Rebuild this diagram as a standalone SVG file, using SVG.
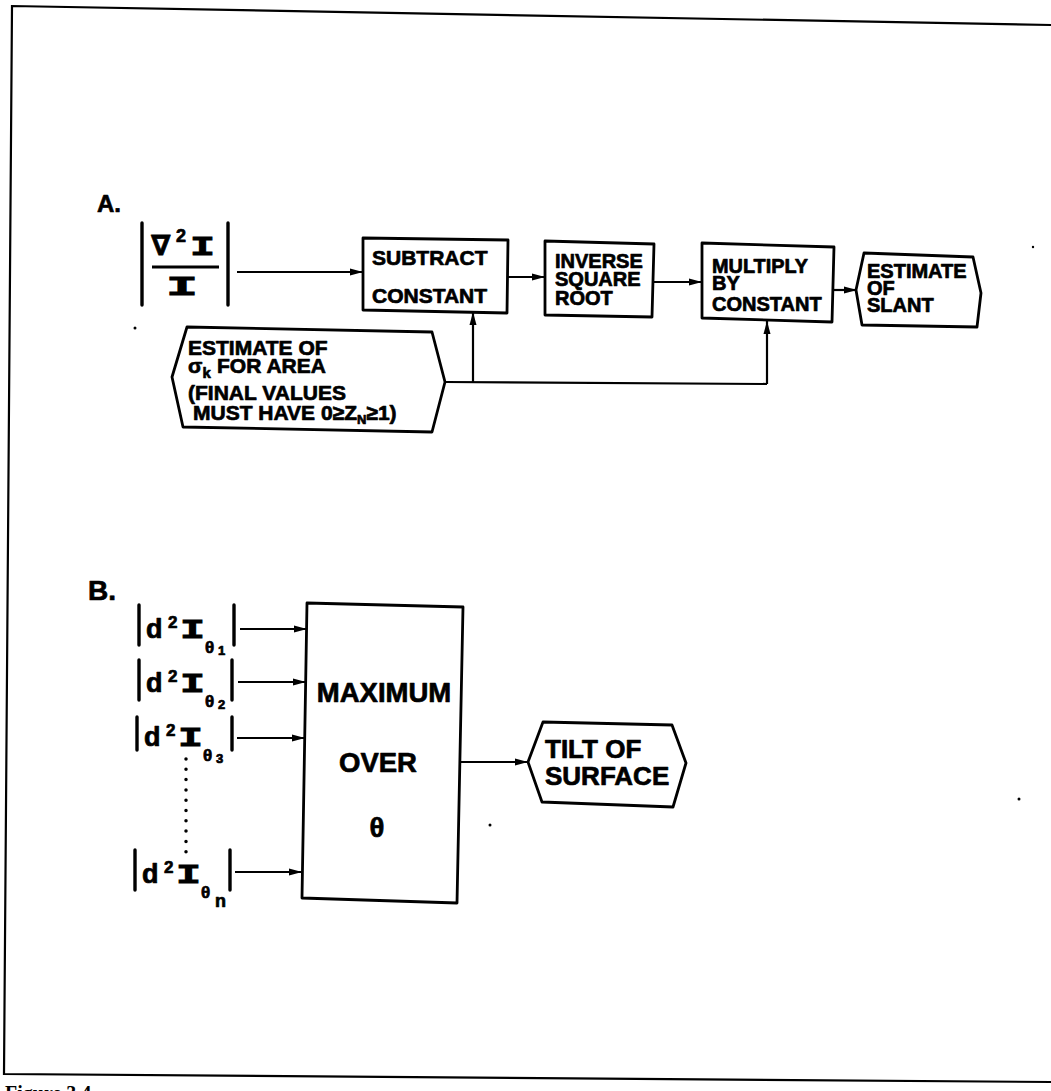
<svg xmlns="http://www.w3.org/2000/svg" width="1051" height="1091" viewBox="0 0 1051 1091">
<style>
.t{font-family:"Liberation Sans","DejaVu Sans",Arial,sans-serif;font-weight:bold;fill:#000;stroke:#000;stroke-width:0.7;stroke-linejoin:round}
.m{font-family:"Liberation Mono","DejaVu Sans Mono",monospace;font-weight:bold;fill:#000;stroke:#000;stroke-width:0.8}
.box{fill:#fff;stroke:#000;stroke-width:2.8;stroke-linejoin:round}
.ln{stroke:#000;stroke-width:2.2;fill:none}
.bar{stroke:#000;stroke-width:3.4;stroke-linecap:round}
.arr{stroke:#000;stroke-width:2.2;fill:none;marker-end:url(#ah)}
.cap{font-family:"Liberation Serif","Times New Roman",serif;font-weight:bold;fill:#000}
</style>
<defs>
<marker id="ah" markerUnits="userSpaceOnUse" markerWidth="14" markerHeight="8" refX="13" refY="4" orient="auto">
<path d="M0,0.5 L13,4 L0,7.5 z" fill="#000"/>
</marker>
</defs>
<rect width="1051" height="1091" fill="#fff"/>

<!-- frame -->
<g id="frame">
<polyline class="ln" points="1051,25 12,6 4,1074 1051,1082" stroke-width="2.4"/>
<text class="cap" x="5" y="1100" font-size="20">Figure 3.4</text>
</g>

<!-- stray scan dots -->
<g id="dots" fill="#000">
<circle cx="135" cy="328" r="1.5"/>
<circle cx="490" cy="825" r="1.5"/>
<circle cx="1019" cy="799" r="1.5"/>
<circle cx="1033" cy="247" r="1.2"/>
</g>

<g id="labelA"><text class="t" x="97" y="212" font-size="24">A.</text></g>
<g id="labelB"><text class="t" x="88" y="600" font-size="28">B.</text></g>

<!-- Part A -->
<g id="inputFraction">
<line class="bar" x1="142" y1="223" x2="142" y2="305"/>
<line class="bar" x1="228" y1="223" x2="228" y2="305"/>
<text class="t" x="151" y="255" font-size="28">∇</text>
<text class="t" x="176" y="242" font-size="18">2</text>
<text class="m" x="190" y="255" font-size="28" textLength="25" lengthAdjust="spacingAndGlyphs">I</text>
<line x1="152" y1="267" x2="219" y2="267" stroke="#000" stroke-width="3"/>
<text class="m" x="166" y="295" font-size="28" textLength="32" lengthAdjust="spacingAndGlyphs">I</text>
</g>

<g id="subtract">
<polygon class="box" points="363,238 508,240 507,313 363,310"/>
<text class="t" x="372" y="265" font-size="21">SUBTRACT</text>
<text class="t" x="372" y="303" font-size="21">CONSTANT</text>
</g>

<g id="inverse">
<polygon class="box" points="545,241 654,244 652,317 545,315"/>
<text class="t" x="555" y="268" font-size="20">INVERSE</text>
<text class="t" x="555" y="286" font-size="20">SQUARE</text>
<text class="t" x="555" y="305" font-size="20">ROOT</text>
</g>

<g id="multiply">
<polygon class="box" points="702,243 834,247 832,322 702,318"/>
<text class="t" x="712" y="273" font-size="20" textLength="96" lengthAdjust="spacingAndGlyphs">MULTIPLY</text>
<text class="t" x="712" y="290" font-size="20">BY</text>
<text class="t" x="712" y="311" font-size="20">CONSTANT</text>
</g>

<g id="slant">
<polygon class="box" points="864,253 973,257 981,293 977,327 862,325 856,290"/>
<text class="t" x="867" y="278" font-size="20">ESTIMATE</text>
<text class="t" x="867" y="295" font-size="20">OF</text>
<text class="t" x="867" y="312" font-size="20">SLANT</text>
</g>

<g id="sigma">
<polygon class="box" points="187,327 432,332 445,382 432,432 183,427 172,377"/>
<text class="t" x="188" y="355" font-size="21">ESTIMATE OF</text>
<text class="t" x="188" y="373" font-size="21">σ<tspan font-size="15" dy="5">k</tspan><tspan dy="-5" x="217">FOR AREA</tspan></text>
<text class="t" x="188" y="400" font-size="21">(FINAL VALUES</text>
<text class="t" x="193" y="420" font-size="21">MUST HAVE  0≥Z<tspan font-size="13" dy="4">N</tspan><tspan dy="-4">≥1)</tspan></text>
</g>

<!-- Part B -->
<g id="maximum">
<polygon class="box" points="307,603 463,607 457,903 302,898"/>
<text class="t" x="384" y="702" font-size="27.5" text-anchor="middle">MAXIMUM</text>
<text class="t" x="378" y="772" font-size="27.5" text-anchor="middle">OVER</text>
<text class="t" x="377" y="837" font-size="27.5" text-anchor="middle">θ</text>
</g>

<g id="tilt">
<polygon class="box" points="543,722 672,725 686,763 673,807 542,802 528,762"/>
<text class="t" x="545" y="758" font-size="26">TILT OF</text>
<text class="t" x="545" y="785" font-size="26">SURFACE</text>
</g>

<g id="in1" transform="translate(139,638)">
<line class="bar" x1="0" y1="-33" x2="0" y2="7"/>
<line class="bar" x1="95" y1="-33" x2="95" y2="7"/>
<text class="t" x="7" y="0" font-size="27">d</text>
<text class="t" x="29" y="-10" font-size="17">2</text>
<text class="m" x="41" y="0" font-size="27" textLength="25" lengthAdjust="spacingAndGlyphs">I</text>
<text class="t" x="66" y="15" font-size="17">θ</text>
<text class="t" x="79" y="17" font-size="13">1</text>
</g>
<g id="in2" transform="translate(139,692)">
<line class="bar" x1="0" y1="-32" x2="0" y2="8"/>
<line class="bar" x1="93" y1="-32" x2="93" y2="8"/>
<text class="t" x="7" y="0" font-size="27">d</text>
<text class="t" x="29" y="-10" font-size="17">2</text>
<text class="m" x="41" y="0" font-size="27" textLength="25" lengthAdjust="spacingAndGlyphs">I</text>
<text class="t" x="66" y="15" font-size="17">θ</text>
<text class="t" x="79" y="17" font-size="13">2</text>
</g>
<g id="in3" transform="translate(137,746)">
<line class="bar" x1="0" y1="-29" x2="0" y2="4"/>
<line class="bar" x1="95" y1="-29" x2="95" y2="4"/>
<text class="t" x="7" y="0" font-size="27">d</text>
<text class="t" x="29" y="-10" font-size="17">2</text>
<text class="m" x="41" y="0" font-size="27" textLength="25" lengthAdjust="spacingAndGlyphs">I</text>
<text class="t" x="66" y="15" font-size="17">θ</text>
<text class="t" x="79" y="17" font-size="13">3</text>
</g>
<g id="inN" transform="translate(135,883)">
<line class="bar" x1="0" y1="-33" x2="0" y2="7"/>
<line class="bar" x1="95" y1="-33" x2="95" y2="7"/>
<text class="t" x="7" y="0" font-size="27">d</text>
<text class="t" x="29" y="-10" font-size="17">2</text>
<text class="m" x="41" y="0" font-size="27" textLength="25" lengthAdjust="spacingAndGlyphs">I</text>
<text class="t" x="66" y="15" font-size="17">θ</text>
<text class="t" x="80" y="24" font-size="18">n</text>
</g>

<!-- connectors -->
<g id="connectors">
<line class="arr" x1="237" y1="272" x2="363" y2="272"/>
<line class="arr" x1="508" y1="277" x2="545" y2="277"/>
<line class="arr" x1="654" y1="282" x2="702" y2="282"/>
<line class="arr" x1="834" y1="290" x2="857" y2="290"/>
<polyline class="ln" points="445,382 767,384"/>
<line class="arr" x1="473" y1="382" x2="473" y2="312"/>
<line class="arr" x1="767" y1="384" x2="767" y2="321"/>
<line class="arr" x1="240" y1="629" x2="307" y2="629"/>
<line class="arr" x1="238" y1="682" x2="306" y2="682"/>
<line class="arr" x1="237" y1="738" x2="305" y2="738"/>
<line class="arr" x1="235" y1="872" x2="302" y2="872"/>
<line x1="186" y1="759" x2="186" y2="852" stroke="#000" stroke-width="3.5" stroke-linecap="round" stroke-dasharray="0 10.3"/>
<line class="arr" x1="460" y1="762" x2="528" y2="762"/>
</g>
</svg>
